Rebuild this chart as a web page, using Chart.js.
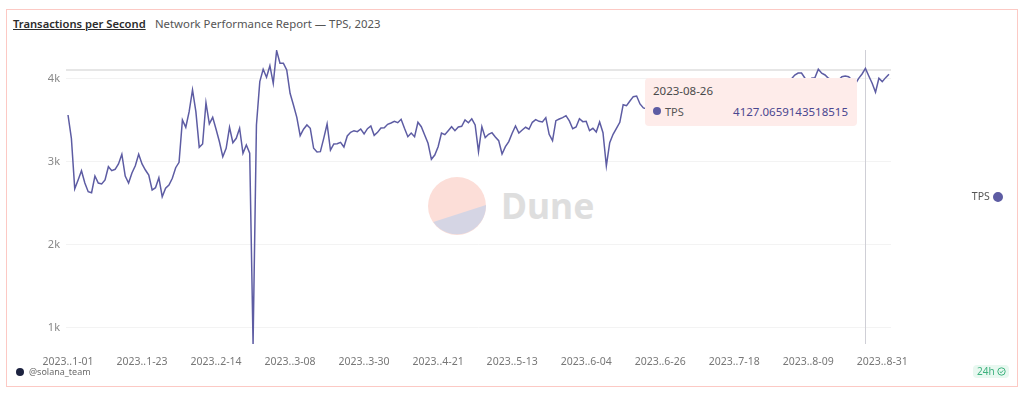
<!DOCTYPE html>
<html>
<head>
<meta charset="utf-8">
<title>Transactions per Second</title>
<script src="https://cdn.jsdelivr.net/npm/chart.js@4"></script>
<style>
  html, body { margin: 0; padding: 0; background: #fff; }
  body { width: 1024px; height: 394px; position: relative; overflow: hidden; font-family: "Noto Sans", sans-serif; }
  #card { position: absolute; left: 6px; top: 9px; width: 1010px; height: 376px; border: 1px solid #fcc9c4; }
  #title { position: absolute; left: 13px; top: 16px; font-size: 11.2px; font-weight: 600; color: #2c2c2c; text-decoration: underline; white-space: nowrap; }
  #subtitle { position: absolute; left: 155px; top: 16px; font-size: 11.35px; color: #555; white-space: nowrap; }
  #logo { position: absolute; left: 428px; top: 176px; }
  #wordmark { position: absolute; left: 501px; top: 178px; font-size: 35.5px; line-height: 54px; font-weight: 700; color: #dedede; }
  #wrap { position: absolute; left: 0; top: 0; width: 1024px; height: 394px; }
  #avatar { position: absolute; left: 16px; top: 368px; width: 8px; height: 8px; border-radius: 50%; background: #1d2340; }
  #owner { position: absolute; left: 29px; top: 365px; font-size: 9px; color: #6b6b6b; }
  #fresh { position: absolute; left: 973px; top: 365px; width: 36px; height: 13px; border-radius: 4px; background: #e8f8f0; color: #3fb27f; font-size: 10px; line-height: 13px; padding-left: 4px; box-sizing: border-box; }
  #fresh svg { position: absolute; left: 24px; top: 2px; }
  #tip { position: absolute; left: 645px; top: 78px; width: 212px; height: 48px; background: #feecea; border-radius: 4px; font-size: 11px; color: #555; }
  #tip .date { position: absolute; left: 8px; top: 5px; font-size: 11.5px; color: #4a4a4a; }
  #tip .dot { position: absolute; left: 8px; top: 29px; width: 8px; height: 8px; border-radius: 50%; }
  #tip .name { position: absolute; left: 20px; top: 26px; }
  #tip .val { position: absolute; right: 9px; top: 26px; font-size: 11.5px; color: #4a4790; }
</style>
</head>
<body>
<div id="card"></div>
<div id="title">Transactions per Second</div>
<div id="subtitle">Network Performance Report — TPS, 2023</div>
<svg id="logo" width="58" height="60" viewBox="0 0 58 60">
  <circle cx="29" cy="30" r="29" fill="#fcded8"/>
  <path d="M5.3 46 A29 29 0 0 0 58 29 Z" fill="#d5d5e4"/>
</svg>
<div id="wordmark">Dune</div>
<div id="wrap"><canvas id="myChart"></canvas></div>
<div id="avatar"></div>
<div id="owner">@solana_team</div>
<div id="fresh">24h<svg width="9" height="9" viewBox="0 0 9 9"><circle cx="4.5" cy="4.5" r="3.7" fill="none" stroke="#3fb27f" stroke-width="1"/><path d="M2.8 4.6 L4.1 5.8 L6.2 3.4" fill="none" stroke="#3fb27f" stroke-width="1"/></svg></div>
<div id="tip"><div class="date"></div><div class="dot"></div><div class="name"></div><div class="val"></div></div>

<script>
const seriesName = 'TPS';
const tpsValues = [
  3566, 3285, 2678, 2783, 2895, 2746, 2642, 2630, 2831, 2746,
  2735, 2783, 2943, 2895, 2912, 2976, 3093, 2831, 2746, 2867,
  2955, 3093, 2976, 2903, 2843, 2662, 2690, 2810, 2582, 2683,
  2723, 2803, 2931, 2996, 3506, 3418, 3606, 3867, 3606, 3177,
  3217, 3714, 3458, 3538, 3394, 3244, 3064, 3165, 3418, 3232,
  3285, 3406, 3105, 3205, 3105, 807, 3446, 3968, 4117, 4020,
  4160, 3948, 4341, 4189, 4189, 4108, 3828, 3687, 3538, 3317,
  3394, 3446, 3406, 3165, 3120, 3124, 3285, 3458, 3144, 3217,
  3220, 3237, 3180, 3313, 3357, 3377, 3365, 3397, 3337, 3401,
  3434, 3321, 3357, 3410, 3413, 3454, 3470, 3490, 3473, 3514,
  3406, 3305, 3349, 3305, 3478, 3425, 3325, 3225, 3032, 3084,
  3184, 3349, 3329, 3377, 3425, 3377, 3422, 3430, 3506, 3473,
  3520, 3446, 3124, 3425, 3293, 3333, 3353, 3301, 3257, 3096,
  3184, 3245, 3346, 3434, 3349, 3385, 3418, 3394, 3478, 3510,
  3490, 3482, 3534, 3333, 3257, 3498, 3518, 3534, 3558, 3494,
  3401, 3422, 3522, 3486, 3490, 3377, 3406, 3361, 3482, 3353,
  2952, 3232, 3333, 3406, 3478, 3690, 3678, 3735, 3787, 3795,
  3699, 3651, 3640, 3620, 3655, 3690, 3710, 3680, 3650, 3700,
  3740, 3715, 3690, 3730, 3760, 3745, 3720, 3770, 3800, 3780,
  3755, 3790, 3825, 3810, 3785, 3830, 3860, 3840, 3815, 3855,
  3890, 3870, 3845, 3885, 3920, 3900, 3880, 3925, 3950, 3930,
  3910, 3945, 3975, 3960, 3985, 4000, 4048, 4072, 4072, 4012,
  3964, 4008, 4016, 4117, 4069, 4048, 4008, 3990, 3960, 3985,
  4028, 4036, 4028, 3988, 3940, 4008, 4060, 4127.0659143518515, 4036, 3948,
  3840, 4008, 3968, 4016, 4057
];
const xTickLabels = ['2023..1-01', '2023..1-23', '2023..2-14', '2023..3-08', '2023..3-30', '2023..4-21', '2023..5-13', '2023..6-04', '2023..6-26', '2023..7-18', '2023..8-09', '2023..8-31'];
const xTickEvery = 22;
const yTickValues = [1000, 2000, 3000, 4000];
const activeIndex = 237;
const activeDate = '2023-08-26';
const guideValue = 4108;

const lineColor = '#5d5ca3';

// crosshair for the hovered point, drawn behind the line like on the dashboard
const crosshair = {
  id: 'crosshair',
  beforeDatasetsDraw(chart) {
    const { ctx, chartArea, scales } = chart;
    const x = scales.x.getPixelForValue(activeIndex);
    const y = scales.y.getPixelForValue(guideValue);
    ctx.save();
    ctx.strokeStyle = '#e6e6e6';
    ctx.lineWidth = 2;
    ctx.beginPath();
    ctx.moveTo(chartArea.left, y);
    ctx.lineTo(chartArea.right, y);
    ctx.stroke();
    ctx.strokeStyle = '#cfcfd6';
    ctx.lineWidth = 1;
    ctx.beginPath();
    ctx.moveTo(Math.round(x) + 0.5, chartArea.top);
    ctx.lineTo(Math.round(x) + 0.5, chartArea.bottom);
    ctx.stroke();
    ctx.restore();
  }
};

// legend sits well away from the plot, so give it a fixed width and
// center it on the plot height rather than the whole canvas
const legendPlace = {
  id: 'legendPlace',
  beforeInit(chart) {
    const fit = chart.legend.fit;
    chart.legend.fit = function () {
      fit.call(this);
      this.width = 133;
    };
  },
  afterLayout(chart) {
    chart.legend.bottom = chart.chartArea.bottom;
  }
};

function showTip(context) {
  const tip = context.tooltip;
  if (!tip.dataPoints || !tip.dataPoints.length) return;
  const box = document.getElementById('tip');
  box.querySelector('.date').textContent = activeDate;
  box.querySelector('.dot').style.background = lineColor;
  box.querySelector('.name').textContent = tip.dataPoints[0].dataset.label;
  box.querySelector('.val').textContent = String(tip.dataPoints[0].parsed.y);
}

const ctx = document.getElementById('myChart').getContext('2d');
const myChart = new Chart(ctx, {
  type: 'line',
  data: {
    datasets: [{
      label: seriesName,
      data: tpsValues.map((v, i) => ({ x: i, y: v })),
      borderColor: lineColor,
      backgroundColor: lineColor,
      borderWidth: 1.5,
      pointRadius: 0,
      pointHoverRadius: 0,
      tension: 0
    }]
  },
  options: {
    responsive: true,
    maintainAspectRatio: false,
    animation: false,
    events: [],
    layout: { padding: { left: 0, right: 0, top: 50, bottom: 0 } },
    plugins: {
      legend: {
        position: 'right',
        rtl: true,
        labels: {
          usePointStyle: true,
          pointStyle: 'circle',
          boxWidth: 6,
          boxHeight: 6,
          padding: 23,
          color: '#555',
          font: { family: 'Noto Sans', size: 10.5 }
        }
      },
      tooltip: { enabled: false, external: showTip }
    },
    scales: {
      x: {
        type: 'linear',
        min: -0.6,
        max: 244.6,
        grid: { display: false },
        border: { display: false },
        afterBuildTicks: (axis) => {
          axis.ticks = xTickLabels.map((_, i) => ({ value: i * xTickEvery }));
        },
        afterFit: (axis) => { axis.height = 50; },
        ticks: {
          autoSkip: false,
          maxRotation: 0,
          padding: 4,
          color: '#777',
          font: { family: 'Noto Sans', size: 10.5 },
          callback: (value) => xTickLabels[value / xTickEvery]
        }
      },
      y: {
        min: 807,
        max: 4349,
        grid: { color: '#f3f3f3', drawTicks: false },
        border: { display: false },
        afterBuildTicks: (axis) => {
          axis.ticks = yTickValues.map((v) => ({ value: v }));
        },
        afterFit: (axis) => { axis.width = 66; },
        ticks: {
          padding: 6,
          color: '#888',
          font: { family: 'Noto Sans', size: 11 },
          callback: (value) => (value / 1000) + 'k'
        }
      }
    }
  },
  plugins: [crosshair, legendPlace]
});

myChart.tooltip.setActiveElements([{ datasetIndex: 0, index: activeIndex }], { x: 0, y: 0 });
myChart.update();
</script>
</body>
</html>
